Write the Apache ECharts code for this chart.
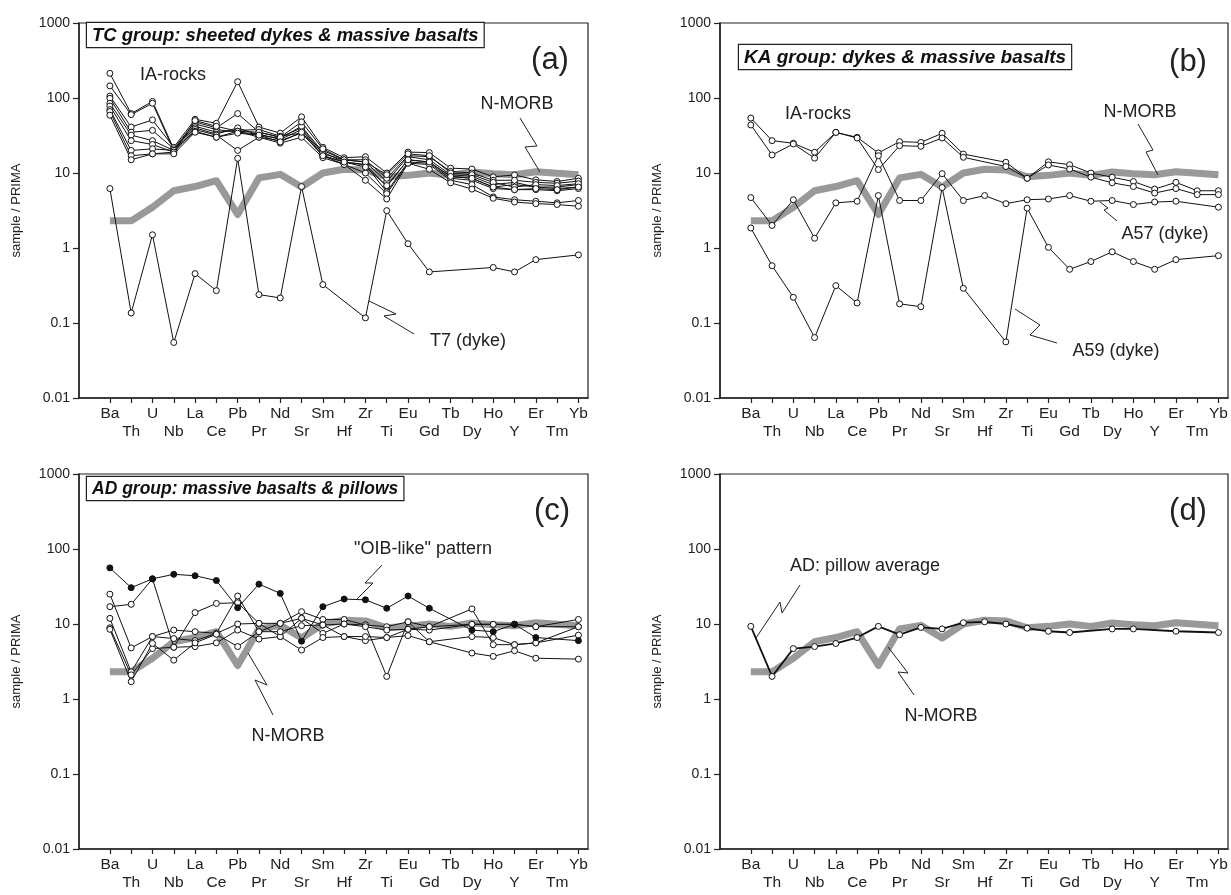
<!DOCTYPE html>
<html><head><meta charset="utf-8">
<script src="https://cdn.jsdelivr.net/npm/echarts@6/dist/echarts.min.js"></script>
<style>html,body{margin:0;padding:0;background:#fff}#c{width:1231px;height:895px}</style>
</head><body><div id="c"></div>
<script>
const elements = ['Ba','Th','U','Nb','La','Ce','Pb','Pr','Nd','Sr','Sm','Hf','Zr','Ti','Eu','Gd','Tb','Dy','Ho','Y','Er','Tm','Yb'];
const yTickLabels = ['0.01','0.1','1','10','100','1000'];

// N-MORB reference pattern (grey band)
const nmorb = [2.3,2.3,3.5,5.8,6.6,7.9,2.8,8.6,9.6,6.5,10,11.2,11,8.9,9.3,10,9.3,10.3,9.8,9.5,10.4,9.9,9.5];

// (a) TC group IA-rocks
const tcA1 = [213,62,90,21,48,40,62,35,30,40,18,15,14,7.7,16.5,15,9.5,9,7,7.5,6.5,6.5,7];
const tcA2 = [145,60,85,20,45,38,35,33,28,38,17,14,13,6.6,15,14,9,8.5,6.5,7,6.5,6.2,6.5];
const tcA3 = [106,41,51,22,52,46,165,41,34,56,22,16,16.5,10,19,18.7,11.6,11.3,8.9,9.4,8.1,7.7,8.5];
const tcA4 = [99,35,37,21,42,35,37,38,31,34,20,15,15,8.5,17,16.5,10.5,10,8,8,7.5,7.3,7.8];
const tcA5 = [85,32,27,20,40,33,40,32,29,42,19,14,12.8,5.6,14,13.5,8.5,8,6.2,6,6,5.8,6.2];
const tcA6 = [78,27,24,19,38,32,20,30,27,34,17,13,10,5.3,13.5,13,8,7,4.8,4.4,4.2,4,4.3];
const tcA7 = [70,20,21,20,36,30,36,30,25,30,16,13,8,4.5,13.5,11.2,7.4,6.1,4.6,4.1,3.9,3.8,3.6];
const tcA8 = [66,17,18,19,50,42,36,35,30,48,21,15,14,9.5,18,17,10,9.5,7.5,6.5,7,6.8,7.2];
const tcA9 = [59,15,18,18,35,30,34,32,26,35,17,14,12,6.8,15,14,9,8.5,6.5,6,6.2,6,6.5];
const t7 = [6.2,0.136,1.5,0.055,0.455,0.27,15.7,0.239,0.216,6.6,0.325,null,0.117,3.15,1.14,0.48,null,null,0.55,0.48,0.70,null,0.81];

// (b) KA group
const kaB1 = [54,27,24.9,18.9,34.8,29.9,18.5,26.2,25.6,33.8,17.9,null,13.9,8.5,14.1,12.9,10,8.8,7.7,6.1,7.5,5.8,5.8];
const kaB2 = [43.7,17.4,24.4,15.8,34.8,29.3,11.1,23.1,22.7,29.3,16.2,null,12.2,8.5,12.8,11.3,8.8,7.4,6.6,5.4,6.2,5.15,5.15];
const a57 = [4.7,2.0,4.4,1.35,4.0,4.2,17,4.3,4.3,9.8,4.3,5.0,3.9,4.4,4.5,5.0,4.2,4.3,3.8,4.1,4.2,null,3.5];
const a59 = [1.85,0.58,0.22,0.064,0.315,0.185,5.0,0.18,0.165,6.4,0.29,null,0.056,3.4,1.02,0.52,0.66,0.89,0.66,0.52,0.7,null,0.79];

// (c) AD group
const oib = [56,30.5,40,46,44,38,16.5,34,25.6,5.9,17,21.5,21,16.2,23.6,16.2,null,8.3,7.9,9.9,6.6,null,6.0];
const adC1 = [25,4.8,6.8,8.3,7.9,7.5,23.6,7.9,10.2,14.6,11.5,11.5,9.7,9.2,10.7,9.2,null,15.9,5.3,5.3,5.6,null,7.1];
const adC2 = [17,18.3,40,4.9,14.2,18.8,19.2,10.2,6.8,11.9,9.7,10,9.7,2.0,10.7,5.8,null,4.1,3.7,4.4,3.5,null,3.4];
const adC3 = [11.9,2.3,6.8,6.4,6,7.5,10,10.2,10.2,11.9,7.5,10,9.2,8.3,8.5,8.3,null,9.9,9.9,9.9,9.2,null,11.5];
const adC4 = [8.9,2.1,4.7,4.9,5,5.6,8.3,6.3,6.8,4.5,6.6,6.8,6,6.6,7,5.8,null,6.8,6.6,5.3,5.6,null,9.2];
const adC5 = [8.5,1.7,5.5,3.3,5.6,7.3,5,7.9,7.9,9.5,9.7,6.8,6.8,6.6,8.5,9.2,null,9.9,9.9,9.9,9.2,null,9.2];

// (d) AD pillow average
const pillowAvg = [9.3,2.0,4.7,5.0,5.5,6.6,9.3,7.2,9.0,8.6,10.4,10.7,10,8.8,8.0,7.7,null,8.6,8.6,null,8.0,null,7.7];

const FONT = '"Liberation Sans", Arial, sans-serif';
const idx = elements.map((e,i)=>i);
const toPairs = arr => arr.map((v,i)=>[i,v]).filter(d=>d[1]!=null);

const grids = [
  {left:79, top:23, width:509, height:375},
  {left:720, top:23, width:508, height:375},
  {left:79, top:474, width:509, height:375},
  {left:720, top:474, width:508, height:375}
].map(g=>Object.assign({show:true, borderColor:'#222', borderWidth:1.2, backgroundColor:'transparent'}, g));

const xAxes = [0,1,2,3].map(g=>({
  gridIndex:g, type:'value', min:-1.45, max:22.45,
  axisLine:{show:true, onZero:false, lineStyle:{color:'#222', width:1.5}},
  axisTick:{show:true, customValues:idx, length:5, lineStyle:{color:'#222', width:1.2}},
  axisLabel:{show:true, customValues:idx, color:'#222', fontFamily:FONT, fontSize:15.5, lineHeight:18, margin:7,
    formatter:v=>{const i=Math.round(v); return i%2===0 ? elements[i] : '\n'+elements[i];}},
  splitLine:{show:false}
}));

const yAxes = [0,1,2,3].map(g=>({
  gridIndex:g, type:'log', logBase:10, min:0.01, max:1000,
  name:'sample / PRIMA', nameLocation:'middle', nameGap:56, nameRotate:90,
  nameTextStyle:{color:'#222', fontFamily:FONT, fontSize:13},
  axisLine:{show:true, onZero:false, lineStyle:{color:'#222', width:1.5}},
  axisTick:{show:true, length:6, lineStyle:{color:'#222', width:1.2}},
  axisLabel:{color:'#222', fontFamily:FONT, fontSize:14, margin:9,
    formatter:v=>yTickLabels[Math.round(Math.log10(v))+2]},
  splitLine:{show:false}, minorTick:{show:false}
}));

const series = [];
function grey(g){
  series.push({type:'line', xAxisIndex:g, yAxisIndex:g, data:toPairs(nmorb), showSymbol:false, symbol:'none',
    lineStyle:{color:'#999', width:7, join:'round'}, z:1, silent:true});
}
function sample(g, arr, opt={}){
  series.push({type:'line', xAxisIndex:g, yAxisIndex:g, data:toPairs(arr), symbol:'circle',
    symbolSize:opt.size||6, showAllSymbol:true,
    itemStyle:{color:opt.filled?'#111':'#fff', borderColor:'#111', borderWidth:1},
    lineStyle:{color:'#111', width:opt.width||1}, z:opt.z||3, silent:true});
}
[0,1,2,3].forEach(grey);
[tcA1,tcA2,tcA3,tcA4,tcA5,tcA6,tcA7,tcA8,tcA9,t7].forEach(a=>sample(0,a));
[kaB1,kaB2,a57,a59].forEach(a=>sample(1,a));
[adC1,adC2,adC3,adC4,adC5].forEach(a=>sample(2,a));
sample(2, oib, {filled:true, z:4});
sample(3, pillowAvg, {width:1.8});

function label(x,y,text,size){
  return {type:'text', x:x, y:y, z:50, style:{text:text, fill:'#222', font:`${size||18}px ${FONT}`, align:'center', verticalAlign:'middle'}};
}
function leader(pts){
  return {type:'polyline', z:50, shape:{points:pts}, style:{stroke:'#222', lineWidth:1, fill:null}};
}
function box(x,y,text,size){
  return {type:'text', x:x, y:y, z:60, style:{text:text, fill:'#111', font:`italic bold ${size}px ${FONT}`,
    backgroundColor:'#fff', borderColor:'#222', borderWidth:1.2, padding:[3,5,2,5], align:'left', verticalAlign:'top'}};
}
const graphics = [
  box(87,23,'TC group: sheeted dykes & massive basalts',18.5),
  box(739,45,'KA group: dykes & massive basalts',19),
  box(87,477,'AD group: massive basalts & pillows',17.5),
  label(550,60,'(a)',31), label(1188,62,'(b)',31), label(552,511,'(c)',31), label(1188,511,'(d)',31),
  label(173,75,'IA-rocks'),
  label(517,104,'N-MORB'), leader([[520,118],[537,146],[525,147],[540,172]]),
  label(468,341,'T7 (dyke)'), leader([[414,334],[384,316],[396,314],[369,301]]),
  label(818,114,'IA-rocks'),
  label(1140,112,'N-MORB'), leader([[1138,124],[1153,150],[1146,152],[1158,175]]),
  label(1165,234,'A57 (dyke)'), leader([[1117,221],[1104,210],[1108,208],[1100,202]]),
  label(1116,351,'A59 (dyke)'), leader([[1057,343],[1030,335],[1040,325],[1015,309]]),
  label(423,549,'"OIB-like" pattern'), leader([[382,565],[365,583],[373,583],[357,599]]),
  label(288,736,'N-MORB'), leader([[273,715],[255,680],[267,685],[248,653]]),
  label(865,566,'AD: pillow average'), leader([[800,585],[782,613],[780,602],[756,638]]),
  label(941,716,'N-MORB'), leader([[914,695],[898,672],[908,673],[888,647]])
];

const chart = echarts.init(document.getElementById('c'), null, {renderer:'canvas'});
chart.setOption({
  animation:false, backgroundColor:'#fff',
  grid:grids, xAxis:xAxes, yAxis:yAxes, series:series, graphic:graphics
});
</script></body></html>
